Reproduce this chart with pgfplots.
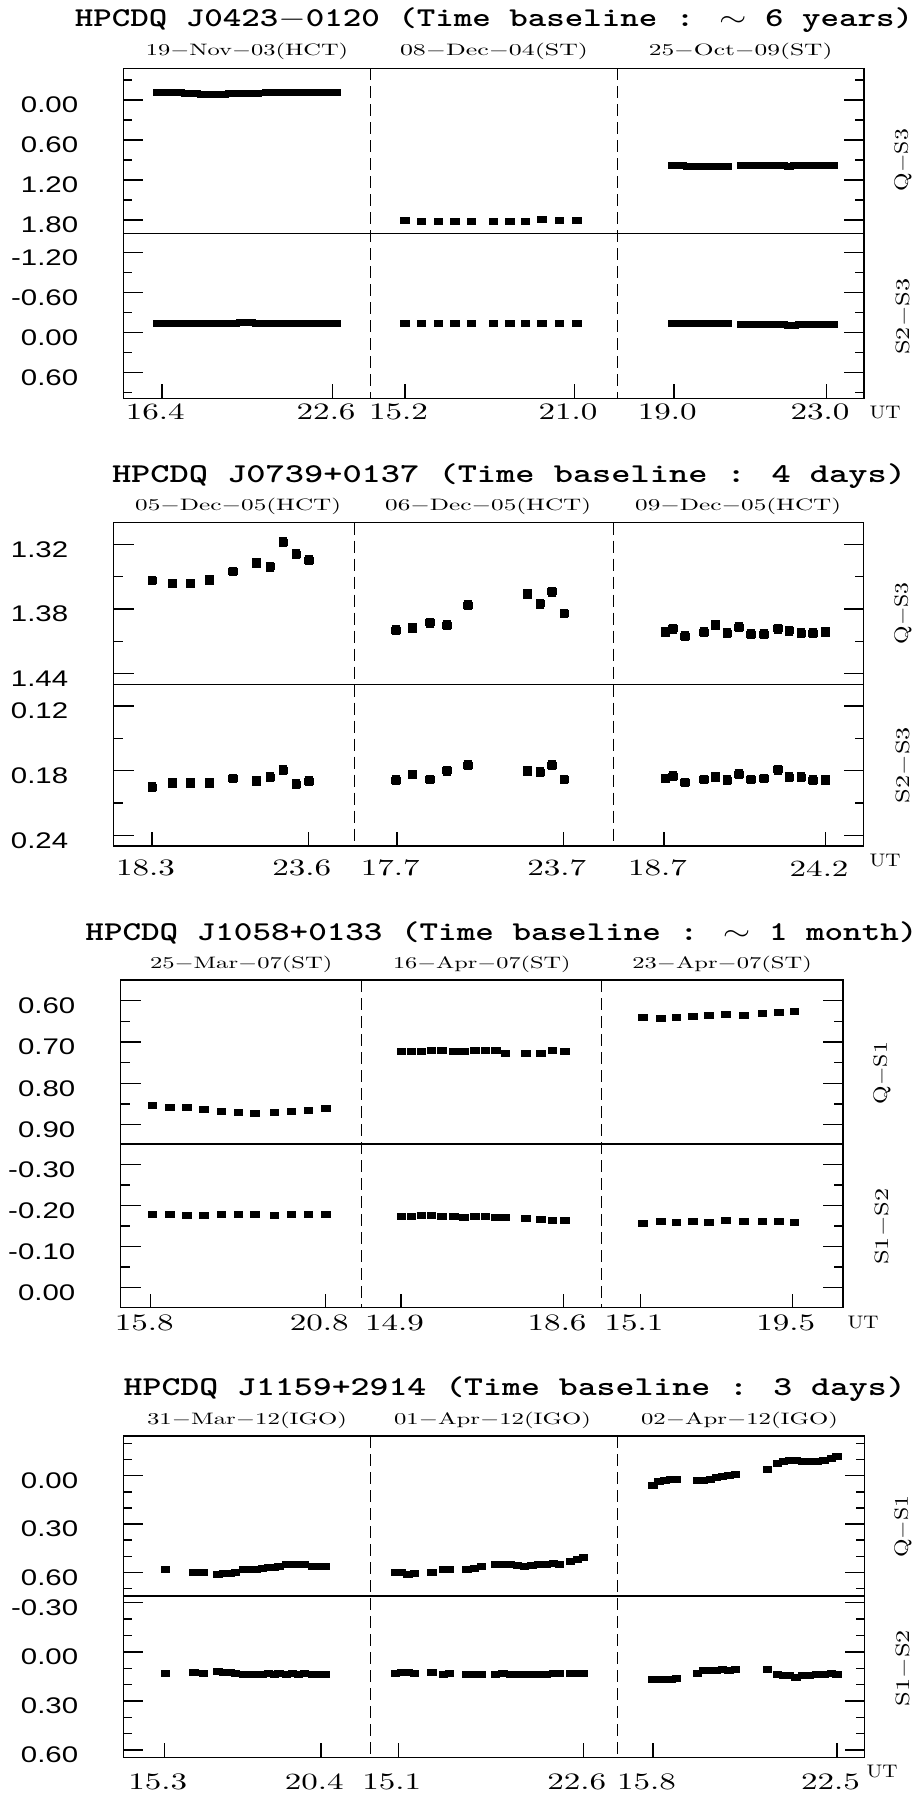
\documentclass[border=0pt]{standalone}
\usepackage{fontspec}
\usepackage{graphicx}
\usepackage{pgfplots}
\pgfplotsset{compat=1.18}
\newfontfamily\ytf{Liberation Sans}[FakeStretch=1.3]
\newcommand{\ytfs}{\ytf\fontsize{11.3}{12}\selectfont}
\newcommand{\RB}[3]{\resizebox{#1pt}{#2pt}{#3}}
\newcommand{\TT}[2]{\RB{#1}{9.4}{\ttfamily\bfseries #2}}
\newcommand{\DT}[2]{\RB{#1}{6.2}{#2}}
\newcommand{\XL}[1]{\RB{29.4}{7.85}{#1}}
\newcommand{\UT}{\RB{15.5}{6.2}{UT}}
\pgfplotsset{
  row/.style={scale only axis, anchor=north west, y dir=reverse, clip=false,
    xtick=\empty, axis line style={line width=0.7pt},
    tick style={black, line width=0.7pt},
    major tick length=10pt, minor tick length=4.5pt,
    yticklabel style={font=\ytfs, anchor=east, inner sep=0pt, xshift=-22.5pt, yshift=-2.5pt}},
  dat/.style={only marks, mark=square*, mark size=1.5pt, black, mark options={xscale=1.4}},
  ebar/.style={error bars/.cd, y dir=both, y fixed=0.0037, error mark=-,
    error bar style={line width=0.9pt},
    error mark options={rotate=90, line width=0.9pt, mark size=2.1pt}},
}
\newcommand{\seg}[5][]{\addplot[dat,#1] table[row sep=\\, x expr={#2+(\thisrow{t}-#3)*#4}, y=m]{#5};}

\begin{document}
\begin{tikzpicture}
\path[use as bounding box] (0,0) rectangle (461pt,-899pt);

%================ Panel 1 =================
\begin{axis}[row, at={(61.75pt,-34.15pt)}, width=370.25pt, height=82.5pt,
  xmin=123.5, xmax=864, ymin=-0.475, ymax=2.0,
  ytick={0,0.6,1.2,1.8}, yticklabels={0.00,0.60,1.20,1.80}, minor ytick={-0.3,0.3,0.9,1.5}]
\seg{161.8}{16.4}{27.55}{t m\\16.26 -0.110\\16.45 -0.110\\16.65 -0.112\\16.85 -0.108\\17.05 -0.110\\17.25 -0.104\\17.45 -0.096\\17.65 -0.095\\17.85 -0.090\\18.05 -0.090\\18.25 -0.088\\18.45 -0.090\\18.65 -0.090\\18.85 -0.092\\19.05 -0.100\\19.25 -0.100\\19.45 -0.098\\19.65 -0.100\\19.85 -0.102\\20.22 -0.110\\20.40 -0.110\\20.58 -0.108\\20.76 -0.112\\20.94 -0.110\\21.12 -0.108\\21.30 -0.110\\21.48 -0.112\\21.66 -0.110\\21.84 -0.108\\22.02 -0.110\\22.20 -0.110\\22.38 -0.112\\22.56 -0.110\\22.73 -0.110\\}
\seg{404.9}{15.2}{29.22}{t m\\15.20 1.805\\15.76 1.820\\16.35 1.820\\16.91 1.815\\17.48 1.820\\18.22 1.820\\18.79 1.815\\19.33 1.820\\19.89 1.795\\20.48 1.810\\21.08 1.805\\}
\seg{673.8}{19.0}{38.15}{t m\\18.97 0.980\\19.10 0.980\\19.23 0.982\\19.36 0.990\\19.49 0.995\\19.62 0.995\\19.75 0.998\\19.88 0.995\\20.01 0.995\\20.14 0.992\\20.27 0.995\\20.40 0.990\\20.79 0.980\\21.04 0.982\\21.18 0.985\\21.32 0.980\\21.46 0.980\\21.60 0.980\\21.74 0.985\\21.88 0.988\\22.02 0.990\\22.16 0.985\\22.30 0.982\\22.44 0.980\\22.58 0.982\\22.72 0.980\\22.86 0.978\\23.00 0.978\\23.17 0.980\\}
\end{axis}
\begin{axis}[row, at={(61.75pt,-116.65pt)}, width=370.25pt, height=82.5pt,
  xmin=123.5, xmax=864, ymin=-1.49, ymax=0.985,
  ytick={-1.2,-0.6,0,0.6}, yticklabels={-1.20,-0.60,0.00,0.60}, minor ytick={-0.9,-0.3,0.3,0.9}]
\seg{161.8}{16.4}{27.55}{t m\\16.26 -0.140\\16.45 -0.140\\16.65 -0.138\\16.85 -0.140\\17.05 -0.140\\17.25 -0.138\\17.45 -0.140\\17.65 -0.140\\17.85 -0.142\\18.05 -0.140\\18.25 -0.140\\18.45 -0.142\\18.65 -0.145\\18.85 -0.145\\19.05 -0.145\\19.25 -0.148\\19.45 -0.150\\19.65 -0.148\\19.85 -0.145\\20.22 -0.145\\20.40 -0.142\\20.58 -0.140\\20.76 -0.140\\20.94 -0.142\\21.12 -0.140\\21.30 -0.140\\21.48 -0.138\\21.66 -0.140\\21.84 -0.140\\22.02 -0.138\\22.20 -0.140\\22.38 -0.140\\22.56 -0.138\\22.73 -0.140\\}
\seg{404.9}{15.2}{29.22}{t m\\15.20 -0.145\\15.76 -0.140\\16.35 -0.135\\16.91 -0.135\\17.48 -0.135\\18.22 -0.135\\18.79 -0.135\\19.33 -0.135\\19.89 -0.135\\20.48 -0.135\\21.08 -0.145\\}
\seg{673.8}{19.0}{38.15}{t m\\18.97 -0.135\\19.10 -0.135\\19.23 -0.133\\19.36 -0.135\\19.49 -0.135\\19.62 -0.137\\19.75 -0.135\\19.88 -0.135\\20.01 -0.135\\20.14 -0.133\\20.27 -0.135\\20.40 -0.135\\20.79 -0.130\\21.04 -0.130\\21.18 -0.128\\21.32 -0.125\\21.46 -0.130\\21.60 -0.128\\21.74 -0.125\\21.88 -0.120\\22.02 -0.115\\22.16 -0.115\\22.30 -0.118\\22.44 -0.125\\22.58 -0.130\\22.72 -0.130\\22.86 -0.130\\23.00 -0.130\\23.17 -0.130\\}
\end{axis}

%================ Panel 2 =================
\begin{axis}[row, at={(56.75pt,-261.35pt)}, width=375pt, height=80.8pt,
  xmin=113.5, xmax=863.5, ymin=1.30, ymax=1.45,
  ytick={1.32,1.38,1.44}, yticklabels={1.32,1.38,1.44}, minor ytick={1.35,1.41}]
\seg[ebar]{152}{18.3}{29.47}{t m\\18.31 1.3536\\18.99 1.3564\\19.61 1.3564\\20.25 1.3533\\21.04 1.3453\\21.85 1.3373\\22.31 1.3410\\22.75 1.3181\\23.19 1.3293\\23.62 1.3348\\}
\seg[ebar]{396.8}{17.7}{27.73}{t m\\17.67 1.3996\\18.27 1.3974\\18.90 1.3928\\19.51 1.3950\\20.26 1.3765\\22.41 1.3663\\22.87 1.3752\\23.30 1.3641\\23.74 1.3842\\}
\seg[ebar]{664}{18.7}{29.38}{t m\\18.75 1.4014\\19.00 1.3984\\19.41 1.4051\\20.06 1.4014\\20.45 1.3947\\20.85 1.4024\\21.25 1.3968\\21.66 1.4033\\22.10 1.4033\\22.57 1.3984\\22.96 1.4002\\23.37 1.4024\\23.77 1.4024\\24.20 1.4014\\}
\end{axis}
\begin{axis}[row, at={(56.75pt,-342.15pt)}, width=375pt, height=80.85pt,
  xmin=113.5, xmax=863.5, ymin=0.10, ymax=0.25,
  ytick={0.12,0.18,0.24}, yticklabels={0.12,0.18,0.24}, minor ytick={0.15,0.21}]
\seg[ebar]{152}{18.3}{29.47}{t m\\18.31 0.1956\\18.99 0.1919\\19.61 0.1919\\20.25 0.1919\\21.04 0.1873\\21.85 0.1900\\22.31 0.1863\\22.75 0.1798\\23.19 0.1928\\23.62 0.1900\\}
\seg[ebar]{396.8}{17.7}{27.73}{t m\\17.67 0.1891\\18.27 0.1836\\18.90 0.1882\\19.51 0.1802\\20.26 0.1752\\22.41 0.1802\\22.87 0.1817\\23.30 0.1752\\23.74 0.1882\\}
\seg[ebar]{664}{18.7}{29.38}{t m\\18.75 0.1873\\19.00 0.1851\\19.41 0.1910\\20.06 0.1882\\20.45 0.1863\\20.85 0.1891\\21.25 0.1832\\21.66 0.1882\\22.10 0.1873\\22.57 0.1792\\22.96 0.1863\\23.37 0.1863\\23.77 0.1891\\24.20 0.1891\\}
\end{axis}

%================ Panel 3 =================
\begin{axis}[row, at={(60.3pt,-490pt)}, width=361.2pt, height=82pt,
  xmin=120.6, xmax=843, ymin=0.5499, ymax=0.947,
  ytick={0.6,0.7,0.8,0.9}, yticklabels={0.60,0.70,0.80,0.90}, minor ytick={0.65,0.75,0.85}]
\seg{150.7}{15.8}{35.0}{t m\\15.85 0.8538\\16.35 0.8587\\16.83 0.8587\\17.32 0.8636\\17.82 0.8684\\18.30 0.8701\\18.78 0.8725\\19.33 0.8701\\19.82 0.8684\\20.30 0.8660\\20.80 0.8611\\}
\seg{401}{14.9}{43.95}{t m\\14.91 0.7217\\15.13 0.7225\\15.37 0.7217\\15.59 0.7200\\15.83 0.7208\\16.10 0.7225\\16.33 0.7225\\16.58 0.7208\\16.82 0.7200\\17.06 0.7192\\17.28 0.7265\\17.74 0.7273\\18.08 0.7273\\18.34 0.7208\\18.63 0.7225\\}
\seg{640.4}{15.1}{34.5}{t m\\15.17 0.6414\\15.69 0.6438\\16.15 0.6414\\16.62 0.6389\\17.09 0.6365\\17.58 0.6341\\18.10 0.6349\\18.63 0.6316\\19.11 0.6292\\19.56 0.6268\\}
\end{axis}
\begin{axis}[row, at={(60.3pt,-572pt)}, width=361.2pt, height=81.85pt,
  xmin=120.6, xmax=843, ymin=-0.3506, ymax=0.0497,
  ytick={-0.3,-0.2,-0.1,0}, yticklabels={-0.30,-0.20,-0.10,0.00}, minor ytick={-0.25,-0.15,-0.05}]
\seg{150.7}{15.8}{35.0}{t m\\15.85 -0.1795\\16.35 -0.1779\\16.83 -0.1771\\17.32 -0.1771\\17.82 -0.1779\\18.30 -0.1779\\18.78 -0.1779\\19.33 -0.1771\\19.82 -0.1779\\20.30 -0.1779\\20.80 -0.1779\\}
\seg{401}{14.9}{43.95}{t m\\14.91 -0.1730\\15.13 -0.1746\\15.37 -0.1755\\15.59 -0.1763\\15.83 -0.1746\\16.10 -0.1738\\16.33 -0.1722\\16.58 -0.1738\\16.82 -0.1730\\17.06 -0.1722\\17.28 -0.1722\\17.74 -0.1698\\18.08 -0.1665\\18.34 -0.1649\\18.63 -0.1633\\}
\seg{640.4}{15.1}{34.5}{t m\\15.17 -0.1567\\15.69 -0.1608\\16.15 -0.1584\\16.62 -0.1608\\17.09 -0.1584\\17.58 -0.1632\\18.10 -0.1624\\18.63 -0.1608\\19.11 -0.1608\\19.56 -0.1584\\}
\end{axis}

%================ Panel 4 =================
\begin{axis}[row, at={(61.75pt,-718pt)}, width=370.6pt, height=80pt,
  xmin=123.5, xmax=864.7, ymin=-0.2466, ymax=0.747,
  ytick={0,0.3,0.6}, yticklabels={0.00,0.30,0.60}, minor ytick={-0.2,-0.1,0.1,0.2,0.4,0.5,0.7}]
\seg{164.2}{15.3}{30.71}{t m\\15.33 0.581\\16.27 0.600\\16.58 0.600\\17.05 0.610\\17.25 0.608\\17.44 0.604\\17.62 0.598\\17.88 0.581\\18.09 0.581\\18.30 0.581\\18.50 0.577\\18.69 0.571\\18.88 0.569\\19.04 0.5625\\19.28 0.550\\19.47 0.548\\19.67 0.548\\19.87 0.552\\20.12 0.560\\20.37 0.565\\20.53 0.565\\}
\seg{398.2}{15.1}{24.68}{t m\\14.98 0.600\\15.23 0.602\\15.50 0.610\\15.75 0.606\\16.47 0.600\\16.92 0.581\\17.17 0.581\\17.89 0.581\\18.18 0.575\\18.47 0.565\\19.05 0.548\\19.35 0.548\\19.64 0.550\\19.93 0.554\\20.22 0.5625\\20.51 0.556\\20.80 0.552\\21.09 0.548\\21.38 0.546\\21.64 0.548\\22.07 0.533\\22.36 0.521\\22.61 0.510\\}
\seg{653}{15.8}{27.46}{t m\\15.80 0.058\\16.01 0.0375\\16.24 0.029\\16.45 0.025\\16.66 0.021\\17.41 0.031\\17.63 0.027\\17.88 0.021\\18.10 0.0125\\18.33 0.004\\18.57 -0.002\\18.80 -0.008\\19.97 -0.040\\20.32 -0.077\\20.55 -0.0875\\20.77 -0.094\\21.01 -0.094\\21.24 -0.092\\21.50 -0.090\\21.77 -0.0875\\22.03 -0.098\\22.29 -0.108\\22.50 -0.117\\}
\end{axis}
\begin{axis}[row, at={(61.75pt,-798pt)}, width=370.6pt, height=80.65pt,
  xmin=123.5, xmax=864.7, ymin=-0.341, ymax=0.644,
  ytick={-0.3,0,0.3,0.6}, yticklabels={-0.30,0.00,0.30,0.60}, minor ytick={-0.2,-0.1,0.1,0.2,0.4,0.5}]
\seg{164.2}{15.3}{30.71}{t m\\15.33 0.134\\16.27 0.128\\16.58 0.134\\17.05 0.122\\17.25 0.126\\17.44 0.128\\17.62 0.130\\17.88 0.138\\18.09 0.138\\18.30 0.136\\18.50 0.136\\18.69 0.134\\18.88 0.136\\19.04 0.134\\19.28 0.136\\19.47 0.134\\19.67 0.136\\19.87 0.134\\20.12 0.138\\20.37 0.138\\20.53 0.138\\}
\seg{398.2}{15.1}{24.68}{t m\\14.98 0.130\\15.23 0.126\\15.50 0.126\\15.75 0.130\\16.47 0.124\\16.92 0.136\\17.17 0.134\\17.89 0.138\\18.18 0.136\\18.47 0.138\\19.05 0.136\\19.35 0.134\\19.64 0.136\\19.93 0.138\\20.22 0.138\\20.51 0.136\\20.80 0.136\\21.09 0.136\\21.38 0.134\\21.64 0.132\\22.07 0.132\\22.36 0.134\\22.61 0.134\\}
\seg{653}{15.8}{27.46}{t m\\15.80 0.167\\16.01 0.169\\16.24 0.169\\16.45 0.167\\16.66 0.161\\17.41 0.130\\17.63 0.115\\17.88 0.111\\18.10 0.113\\18.33 0.109\\18.57 0.111\\18.80 0.109\\19.97 0.109\\20.32 0.138\\20.55 0.146\\20.77 0.142\\21.01 0.155\\21.24 0.146\\21.50 0.142\\21.77 0.138\\22.03 0.140\\22.29 0.134\\22.50 0.138\\}
\end{axis}

%================ decorations in pixel units =================
\begin{scope}[x=0.5pt, y=-0.5pt]
\tikzset{sepl/.style={dash pattern=on 6pt off 3pt, line width=0.6pt},
         tkl/.style={line width=0.7pt}}
% Panel 1
\node at (494,20) {\TT{419}{HPCDQ J0423$-$0120 (Time baseline : $\sim$ 6 years)}};
\node at (247,51.7) {\DT{101.2}{19$-$Nov$-$03(HCT)}};
\node at (494,51.7) {\DT{94}{08$-$Dec$-$04(ST)}};
\node at (740.6,51.7) {\DT{91.8}{25$-$Oct$-$09(ST)}};
\draw[sepl] (370.6,68.3) -- (370.6,398.3);
\draw[sepl] (617.6,68.3) -- (617.6,398.3);
\foreach \x/\l in {161.8/16.4, 332.6/22.6, 404.9/15.2, 574.4/21.0, 673.8/19.0, 826.4/23.0}{
  \draw[tkl] (\x,398.3) -- ++(0,-14);
  \node at (\x-6.5,412.3) {\XL{\l}};}
\node at (885,412) {\UT};
\node[rotate=90] at (903,160) {\RB{31}{6.8}{Q$-$S3}};
\node[rotate=90] at (903,316.7) {\RB{38}{6.8}{S2$-$S3}};
% Panel 2
\node at (509,476) {\TT{397}{HPCDQ J0739+0137 (Time baseline : 4 days)}};
\node at (238.2,506.7) {\DT{103}{05$-$Dec$-$05(HCT)}};
\node at (488.2,506.7) {\DT{103}{06$-$Dec$-$05(HCT)}};
\node at (738.2,506.7) {\DT{103}{09$-$Dec$-$05(HCT)}};
\draw[sepl] (354.7,522.7) -- (354.7,846);
\draw[sepl] (613.5,522.7) -- (613.5,846);
\foreach \x/\l in {152/18.3, 308.2/23.6, 396.8/17.7, 563.2/23.7, 664/18.7, 825.6/24.2}{
  \draw[tkl] (\x,846) -- ++(0,-14);
  \node at (\x-6.5,868.3) {\XL{\l}};}
\node at (885,860) {\UT};
\node[rotate=90] at (903,613.3) {\RB{31}{6.8}{Q$-$S3}};
\node[rotate=90] at (903,765) {\RB{38}{6.8}{S2$-$S3}};
% Panel 3
\node at (501.5,932.7) {\TT{416}{HPCDQ J1058+0133 (Time baseline : $\sim$ 1 month)}};
\node at (241.2,964) {\DT{91.2}{25$-$Mar$-$07(ST)}};
\node at (481.8,964) {\DT{88.8}{16$-$Apr$-$07(ST)}};
\node at (722.1,964) {\DT{89.7}{23$-$Apr$-$07(ST)}};
\draw[sepl] (361.2,980) -- (361.2,1307.7);
\draw[sepl] (601.8,980) -- (601.8,1307.7);
\foreach \x/\l in {150.7/15.8, 325.7/20.8, 401/14.9, 563.6/18.6, 640.4/15.1, 792.2/19.5}{
  \draw[tkl] (\x,1307.7) -- ++(0,-14);
  \node at (\x-6.5,1323.3) {\XL{\l}};}
\node at (863,1322) {\UT};
\node[rotate=90] at (882,1073) {\RB{31}{6.8}{Q$-$S1}};
\node[rotate=90] at (882,1226.7) {\RB{38}{6.8}{S1$-$S2}};
% Panel 4
\node at (514.7,1388.7) {\TT{391}{HPCDQ J1159+2914 (Time baseline : 3 days)}};
\node at (247,1420) {\DT{100}{31$-$Mar$-$12(IGO)}};
\node at (492.5,1420) {\DT{98.5}{01$-$Apr$-$12(IGO)}};
\node at (739.5,1420) {\DT{98.5}{02$-$Apr$-$12(IGO)}};
\draw[sepl] (370.6,1436) -- (370.6,1757.3);
\draw[sepl] (617.6,1436) -- (617.6,1757.3);
\foreach \x/\l in {164.2/15.3, 320.8/20.4, 398.2/15.1, 583.3/22.6, 653/15.8, 837/22.5}{
  \draw[tkl] (\x,1757.3) -- ++(0,-14);
  \node at (\x-6.5,1781.7) {\XL{\l}};}
\node at (882,1771) {\UT};
\node[rotate=90] at (903,1526.7) {\RB{31}{6.8}{Q$-$S1}};
\node[rotate=90] at (903,1668) {\RB{38}{6.8}{S1$-$S2}};
\end{scope}
\end{tikzpicture}
\end{document}
